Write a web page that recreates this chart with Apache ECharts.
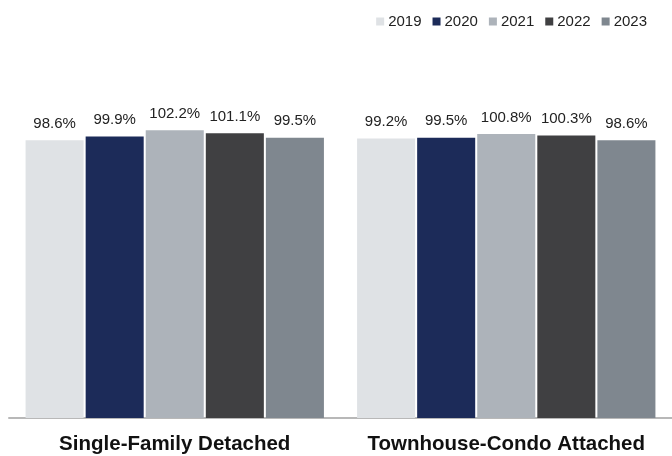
<!DOCTYPE html>
<html>
<head>
<meta charset="utf-8">
<script src="https://cdn.jsdelivr.net/npm/echarts@6/dist/echarts.min.js"></script>
<style>
  html, body { margin: 0; padding: 0; background: #fff; }
  #chart { width: 672px; height: 456px; }
</style>
</head>
<body>
<div id="chart"></div>
<script>
// categories and yearly values (percent)
const categories = ['Single-Family Detached', 'Townhouse-Condo Attached']
const years = ['2019', '2020', '2021', '2022', '2023']
const v2019 = [98.6, 99.2]
const v2020 = [99.9, 99.5]
const v2021 = [102.2, 100.8]
const v2022 = [101.1, 100.3]
const v2023 = [99.5, 98.6]
const colors = ['#dfe2e5', '#1c2b59', '#adb3ba', '#404042', '#7f878f']

const values = [v2019, v2020, v2021, v2022, v2023]

let myChart = echarts.init(document.getElementById('chart'))
let option = {
  animation: false,
  textStyle: { fontFamily: 'Liberation Sans, Arial, sans-serif' },
  legend: {
    data: years,
    top: 9,
    right: 20,
    itemWidth: 8,
    itemHeight: 8,
    itemGap: 11,
    icon: 'rect',
    textStyle: { fontSize: 15, color: '#222', padding: [0, 0, 0, -1] }
  },
  grid: { left: 9, right: 0, top: 80, bottom: 38 },
  xAxis: {
    type: 'category',
    data: categories,
    axisTick: { show: false },
    axisLine: { lineStyle: { color: '#b8b8b8', width: 2 } },
    axisLabel: { interval: 0, fontSize: 20.5, fontWeight: 'bold', color: '#111', margin: 16 }
  },
  yAxis: {
    type: 'value',
    min: 0,
    max: 120,
    show: false
  },
  series: years.map((y, i) => ({
    name: y,
    type: 'bar',
    data: values[i],
    barGap: '3.5%',
    barCategoryGap: '10%',
    itemStyle: { color: colors[i] },
    label: {
      show: true,
      position: 'top',
      distance: 9,
      fontSize: 15,
      color: '#222',
      formatter: p => p.value.toFixed(1) + '%'
    }
  }))
}
myChart.setOption(option, true)
</script>
</body>
</html>
